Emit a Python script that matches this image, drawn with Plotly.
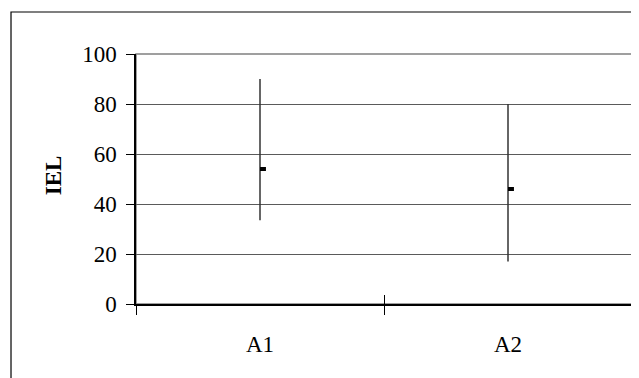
import plotly.graph_objects as go

categories = ["A1", "A2"]
high = [90, 80]
low = [33.5, 17]
close = [54, 46]
y_ticks = [0, 20, 40, 60, 80, 100]

FONT = "Liberation Serif, Times New Roman, serif"
FS = 23

fig = go.Figure()

# high-low lines
xs, ys = [], []
for c, h, l in zip(categories, high, low):
    xs += [c, c, None]
    ys += [l, h, None]
fig.add_trace(go.Scatter(x=xs, y=ys, mode="lines",
                         line=dict(color="#333333", width=1.5),
                         hoverinfo="skip", showlegend=False))

# close ticks (short bar to the right of the line), on the numeric overlay axis
cx, cy = [], []
for i, v in enumerate(close):
    cx += [i, i + 0.024, None]
    cy += [v, v, None]
fig.add_trace(go.Scatter(x=cx, y=cy, xaxis="x2", mode="lines",
                         line=dict(color="black", width=4),
                         hoverinfo="skip", showlegend=False))

fig.update_layout(
    width=631, height=370,
    margin=dict(l=128, r=7, t=46, b=74),
    paper_bgcolor="white", plot_bgcolor="white",
    font=dict(family=FONT, size=FS, color="black"),
    xaxis=dict(type="category", categoryorder="array", categoryarray=categories,
               range=[-0.5, 1.5], tickson="boundaries", ticks="outside", ticklen=9,
               tickcolor="black", tickwidth=1, showgrid=False, showline=True,
               linecolor="black", linewidth=2, zeroline=False,
               ticklabelstandoff=18, tickfont=dict(family=FONT, size=FS)),
    xaxis2=dict(overlaying="x", anchor="y", range=[-0.5, 1.5],
                tickvals=[-0.5, 0.5, 1.5], ticks="inside", ticklen=9,
                tickcolor="black", showticklabels=False, showgrid=False,
                showline=False, zeroline=False),
    yaxis=dict(range=[0, 100], tickvals=y_ticks, ticks="outside", ticklen=8,
               tickcolor="black", showgrid=True, gridcolor="#5a5a5a", gridwidth=1,
               showline=True, linecolor="black", linewidth=1.5, zeroline=False,
               ticklabelstandoff=5, tickfont=dict(family=FONT, size=FS)),
    shapes=[
        dict(type="rect", xref="paper", yref="paper", x0=0, x1=1, y0=0, y1=1,
             line=dict(color="#808080", width=1.5), layer="below"),
        dict(type="rect", xref="paper", yref="paper", x0=-0.252, x1=1.2,
             y0=-0.5, y1=1.168, line=dict(color="black", width=1.2), layer="below"),
    ],
    annotations=[
        dict(text="<b>IEL</b>", xref="paper", yref="paper", x=-0.167, y=0.516,
             textangle=-90, showarrow=False, font=dict(family=FONT, size=FS),
             xanchor="center", yanchor="middle"),
    ],
)

fig.write_html("out.html")
